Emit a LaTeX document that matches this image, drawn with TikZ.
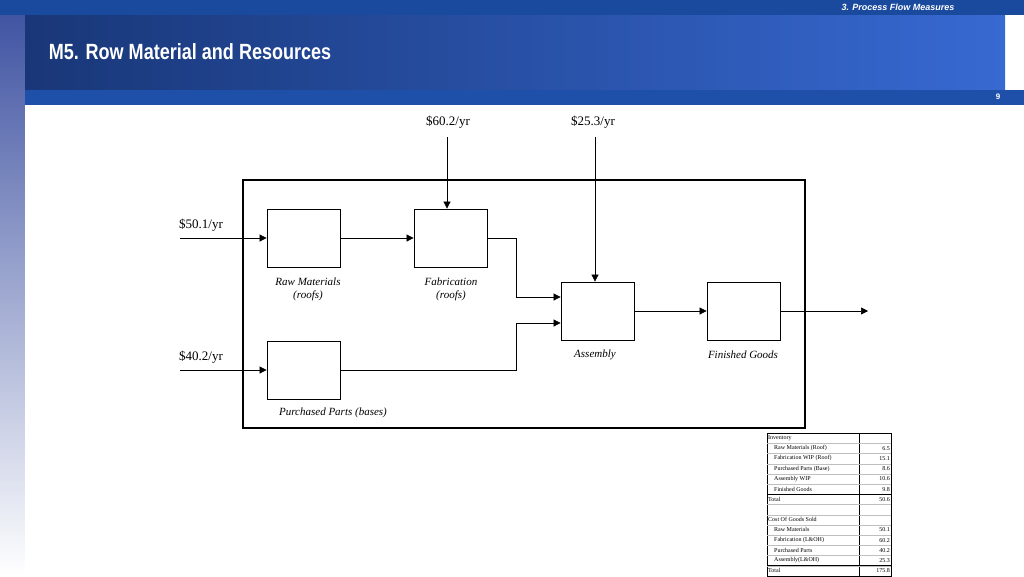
\documentclass[tikz,border=0pt]{standalone}
\usepackage{fontspec}
\setmainfont{Liberation Serif}
\newfontfamily\hsans{Liberation Sans}
\usetikzlibrary{arrows.meta}
\definecolor{topbar}{RGB}{26,74,158}
\definecolor{tleft}{RGB}{25,55,120}
\definecolor{tright}{RGB}{55,105,210}
\definecolor{strip}{RGB}{30,80,170}
\definecolor{side}{RGB}{60,80,160}
\begin{document}
\begin{tikzpicture}[x=1pt,y=-1pt,
  box/.style={draw,line width=0.8pt,minimum width=73pt,minimum height=58pt,inner sep=0},
  flow/.style={line width=0.7pt,-{Triangle[length=7pt,width=7pt]}},
  lbl/.style={font=\itshape\fontsize{11}{13}\selectfont,align=center},
  money/.style={font=\fontsize{13}{15}\selectfont},
  tt/.style={font=\fontsize{6}{7}\selectfont,inner sep=0,anchor=west},
  tn/.style={font=\fontsize{6}{7}\selectfont,inner sep=0,anchor=east}]
\useasboundingbox (0,0) rectangle (1024,576);
\shade[top color=side,bottom color=white] (0,0) rectangle (25,576);
\fill[topbar] (0,0) rectangle (1024,15);
\shade[left color=tleft,right color=tright] (25,15) rectangle (1005,90);
\fill[strip] (25,90) rectangle (1024,105);
\fill[white] (25,105) rectangle (1024,576);
\node[font=\hsans\bfseries\itshape\fontsize{9}{10}\selectfont,text=white,anchor=east] (sect) at (958,7) {3. Process Flow Measures};
\node[font=\hsans\bfseries\fontsize{22}{24}\selectfont,text=white,anchor=west,xscale=0.82] (title) at (46,52) {M5. Row Material and Resources};
\node[font=\hsans\bfseries\fontsize{8}{9}\selectfont,text=white] (pg) at (998,97) {9};
\draw[line width=1.4pt] (243,180) rectangle (805,428);
\node[box] (rm) at (303.5,238) {};
\node[box] (fab) at (450.5,238) {};
\node[box] (asm) at (597.5,311) {};
\node[box] (fg) at (743.5,311) {};
\node[box] (pp) at (303.5,370) {};
\node[lbl] (rml) at (308,289) {Raw Materials\\(roofs)};
\node[lbl] (fabl) at (451,289) {Fabrication\\(roofs)};
\node[lbl] (asml) at (595,355) {Assembly};
\node[lbl] (fgl) at (743,355) {Finished Goods};
\node[lbl] (ppl) at (333,413) {Purchased Parts (bases)};
\node[money] (m60) at (448,122) {\$60.2/yr};
\node[money] (m25) at (593,122) {\$25.3/yr};
\node[money] (m50) at (201,225) {\$50.1/yr};
\node[money] (m40) at (201,357) {\$40.2/yr};
\coordinate (in1) at (180,238);
\coordinate (in2) at (180,370);
\coordinate (out) at (868,311);
\draw[flow] (in1) -- (rm.west);
\draw[flow] (rm.east) -- (fab.west);
\draw[flow] (in2) -- (pp.west);
\draw[flow] (fab.east) -- (516,238) -- (516,297) -- (asm.west |- 0,297);
\draw[flow] (pp.east) -- (516,370) -- (516,323) -- (asm.west |- 0,323);
\draw[flow] (asm.east) -- (fg.west);
\draw[flow] (fg.east) -- (out);
\draw[flow] (447,137) -- (fab.north -| 447,0);
\draw[flow] (595,137) -- (asm.north -| 595,0);
\draw[line width=0.4pt] (767,433) rectangle (891,576);
\draw[line width=0.8pt] (859,433) -- (859,576);
\foreach \i in {1,...,13} \draw[gray!50,line width=0.2pt] (767,{433+\i*10.2}) -- (891,{433+\i*10.2});
\draw[line width=0.4pt] (767,{433+6*10.2}) -- (891,{433+6*10.2});
\draw[line width=0.4pt] (767,{433+13*10.2}) -- (891,{433+13*10.2});
\foreach [count=\k] \t/\v in {Inventory/,
  \quad Raw Materials (Roof)/6.5,
  \quad Fabrication WIP (Roof)/15.1,
  \quad Purchased Parts (Base)/8.6,
  \quad Assembly WIP/10.6,
  \quad Finished Goods/9.8,
  Total/50.6,
  /,
  Cost Of Goods Sold/,
  \quad Raw Materials/50.1,
  \quad Fabrication (L\&OH)/60.2,
  \quad Purchased Parts/40.2,
  \quad Assembly(L\&OH)/25.3,
  Total/175.8} {
  \node[tt] (t\k) at (768,{433+(\k-0.5)*10.2}) {\t};
  \node[tn] (n\k) at (890,{433+(\k-0.5)*10.2}) {\v};
}
\end{tikzpicture}
\end{document}
